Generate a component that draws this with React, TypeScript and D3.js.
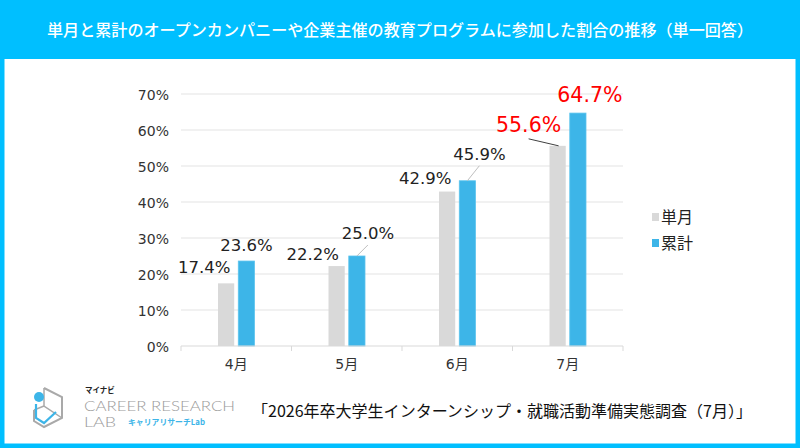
import React from 'react';
import * as d3 from 'd3';

const categories = ['4月', '5月', '6月', '7月'];
const seriesNames = ['単月', '累計'];
const monthly = [17.4, 22.2, 42.9, 55.6];
const cumulative = [23.6, 25.0, 45.9, 64.7];
const yTicks = [0, 10, 20, 30, 40, 50, 60, 70];

const titleText = '単月と累計のオープンカンパニーや企業主催の教育プログラムに参加した割合の推移（単一回答）';
const sourceText = '「2026年卒大学生インターンシップ・就職活動準備実態調査（7月）」';

// label placement tweaks (offset from bar top-center), leader line flag, highlight flag
const labelLayout = [
  [{ dx: -22, dy: -10 }, { dx: 0, dy: -10 }],
  [{ dx: -24, dy: -6 }, { dx: 11, dy: -17, leader: 'light' }],
  [{ dx: -22, dy: -8 }, { dx: 12, dy: -21, leader: 'light' }],
  [{ dx: -29, dy: -14, leader: 'dark', red: true }, { dx: 12, dy: -11, red: true }],
];

const W = 800;
const H = 448;
const BLUE = '#00BFFF';
const GRAY_BAR = '#D9D9D9';
const BLUE_BAR = '#3DB5E8';
const NUM_FONT = '"DejaVu Sans", "Noto Sans CJK JP", sans-serif';
const JP_FONT = '"Noto Sans CJK JP", sans-serif';

export default function App() {
  const x0 = d3.scaleBand().domain(categories).range([181, 623]).padding(0);
  const x1 = d3.scaleBand().domain(seriesNames).range([37, 73.5]).paddingInner(0.2);
  const y = d3.scaleLinear().domain([0, 70]).range([346, 94]);
  const series = [monthly, cumulative];
  const colors = [GRAY_BAR, BLUE_BAR];

  return (
    <svg width={W} height={H} style={{ display: 'block', position: 'absolute', left: 0, top: 0 }}>
      <rect x={0} y={0} width={W} height={H} fill="#fff" />
      <rect x={2} y={2} width={W - 4} height={H - 4} fill="none" stroke={BLUE} strokeWidth={5} />
      <rect x={0} y={0} width={W} height={59} fill={BLUE} />
      <text x={400} y={36} textAnchor="middle" fill="#fff" fontSize={16} fontWeight={500} fontFamily={JP_FONT}
        textLength={706} lengthAdjust="spacingAndGlyphs">
        {titleText}
      </text>

      {/* gridlines */}
      {yTicks.map((t) => (
        <g key={t}>
          {t > 0 && <line x1={181} x2={623} y1={y(t)} y2={y(t)} stroke="#E3E3E3" strokeWidth={1} />}
          <text x={169} y={y(t) + 5.5} textAnchor="end" fontSize={14} fill="#333" fontFamily={NUM_FONT}>
            {t}%
          </text>
        </g>
      ))}

      {/* bars */}
      {categories.map((c, i) => (
        <g key={c}>
          {seriesNames.map((s, j) => {
            const v = series[j][i];
            const bx = (x0(c) as number) + (x1(s) as number);
            return (
              <rect key={s} x={bx} y={y(v)} width={x1.bandwidth()} height={y(0) - y(v)} fill={colors[j]}
                stroke={j === 1 ? '#5CC4EE' : 'none'} strokeWidth={j === 1 ? 0.8 : 0} />
            );
          })}
        </g>
      ))}

      {/* axis */}
      <line x1={181} x2={623} y1={y(0)} y2={y(0)} stroke="#D9D9D9" strokeWidth={1} />
      {[...categories.map((c) => x0(c) as number), 623].map((tx, i) => (
        <line key={i} x1={tx} x2={tx} y1={y(0)} y2={y(0) + 5} stroke="#D9D9D9" strokeWidth={1} />
      ))}
      {categories.map((c) => (
        <text key={c} x={(x0(c) as number) + x0.bandwidth() / 2} y={369} textAnchor="middle" fontSize={14}
          fill="#333" fontFamily={NUM_FONT}>
          {c}
        </text>
      ))}

      {/* data labels */}
      {categories.map((c, i) => (
        <g key={c}>
          {seriesNames.map((s, j) => {
            const v = series[j][i];
            const L: any = labelLayout[i][j];
            const cx = (x0(c) as number) + (x1(s) as number) + x1.bandwidth() / 2;
            const top = y(v);
            const lx = cx + L.dx;
            const ly = top + L.dy;
            let leader = null;
            if (L.leader === 'light') {
              leader = <line x1={cx} y1={top} x2={lx} y2={ly + 6} stroke="#BFBFBF" strokeWidth={1} />;
            } else if (L.leader === 'dark') {
              leader = <line x1={cx + 1} y1={top} x2={lx} y2={ly + 7} stroke="#404040" strokeWidth={1} />;
            }
            return (
              <g key={s}>
                {leader}
                <text x={lx} y={ly} textAnchor="middle" fontSize={L.red ? 20.5 : 16.5}
                  fill={L.red ? '#FF0000' : '#222'} fontFamily={NUM_FONT}>
                  {v.toFixed(1)}%
                </text>
              </g>
            );
          })}
        </g>
      ))}

      {/* legend */}
      {seriesNames.map((s, j) => (
        <g key={s} transform={`translate(652, ${213 + j * 26})`}>
          <rect x={0} y={0} width={7} height={8} fill={colors[j]} />
          <text x={9} y={10} fontSize={16} fill="#222" fontFamily={JP_FONT}>{s}</text>
        </g>
      ))}

      {/* logo */}
      <g>
        <path d="M44 388 L62 397 L62 418 L44 427 L34 421 L34 410" fill="none" stroke="#A9A9A9" strokeWidth={2} />
        <path d="M44 388 L44 406 L62 418 M44 406 L34 410" fill="none" stroke="#A9A9A9" strokeWidth={1.5} />
        <path d="M36 404 L36 418 L44 423 L56 412" fill="none" stroke="#3DB5E8" strokeWidth={2.2} />
        <circle cx={39} cy={397} r={5} fill="#3DB5E8" />
        <text x={85} y={393} fontSize={7.5} fontWeight={700} fill="#222" fontFamily={JP_FONT}>マイナビ</text>
        <text x={84} y={411} fontSize={13.5} fill="#9A9A9A" fontFamily='"Lato", "Open Sans", sans-serif' fontWeight={300}
          textLength={151} lengthAdjust="spacingAndGlyphs">CAREER RESEARCH</text>
        <text x={84} y={427} fontSize={13.5} fill="#9A9A9A" fontFamily='"Lato", "Open Sans", sans-serif' fontWeight={300}
          textLength={32} lengthAdjust="spacingAndGlyphs">LAB</text>
        <text x={128} y={425} fontSize={8} fontWeight={700} fill="#3DB5E8" fontFamily={JP_FONT}
          textLength={77} lengthAdjust="spacingAndGlyphs">キャリアリサーチLab</text>
      </g>

      <text x={252} y={417} fontSize={16} fill="#111" fontFamily={JP_FONT} textLength={500} lengthAdjust="spacingAndGlyphs">
        {sourceText}
      </text>
    </svg>
  );
}
